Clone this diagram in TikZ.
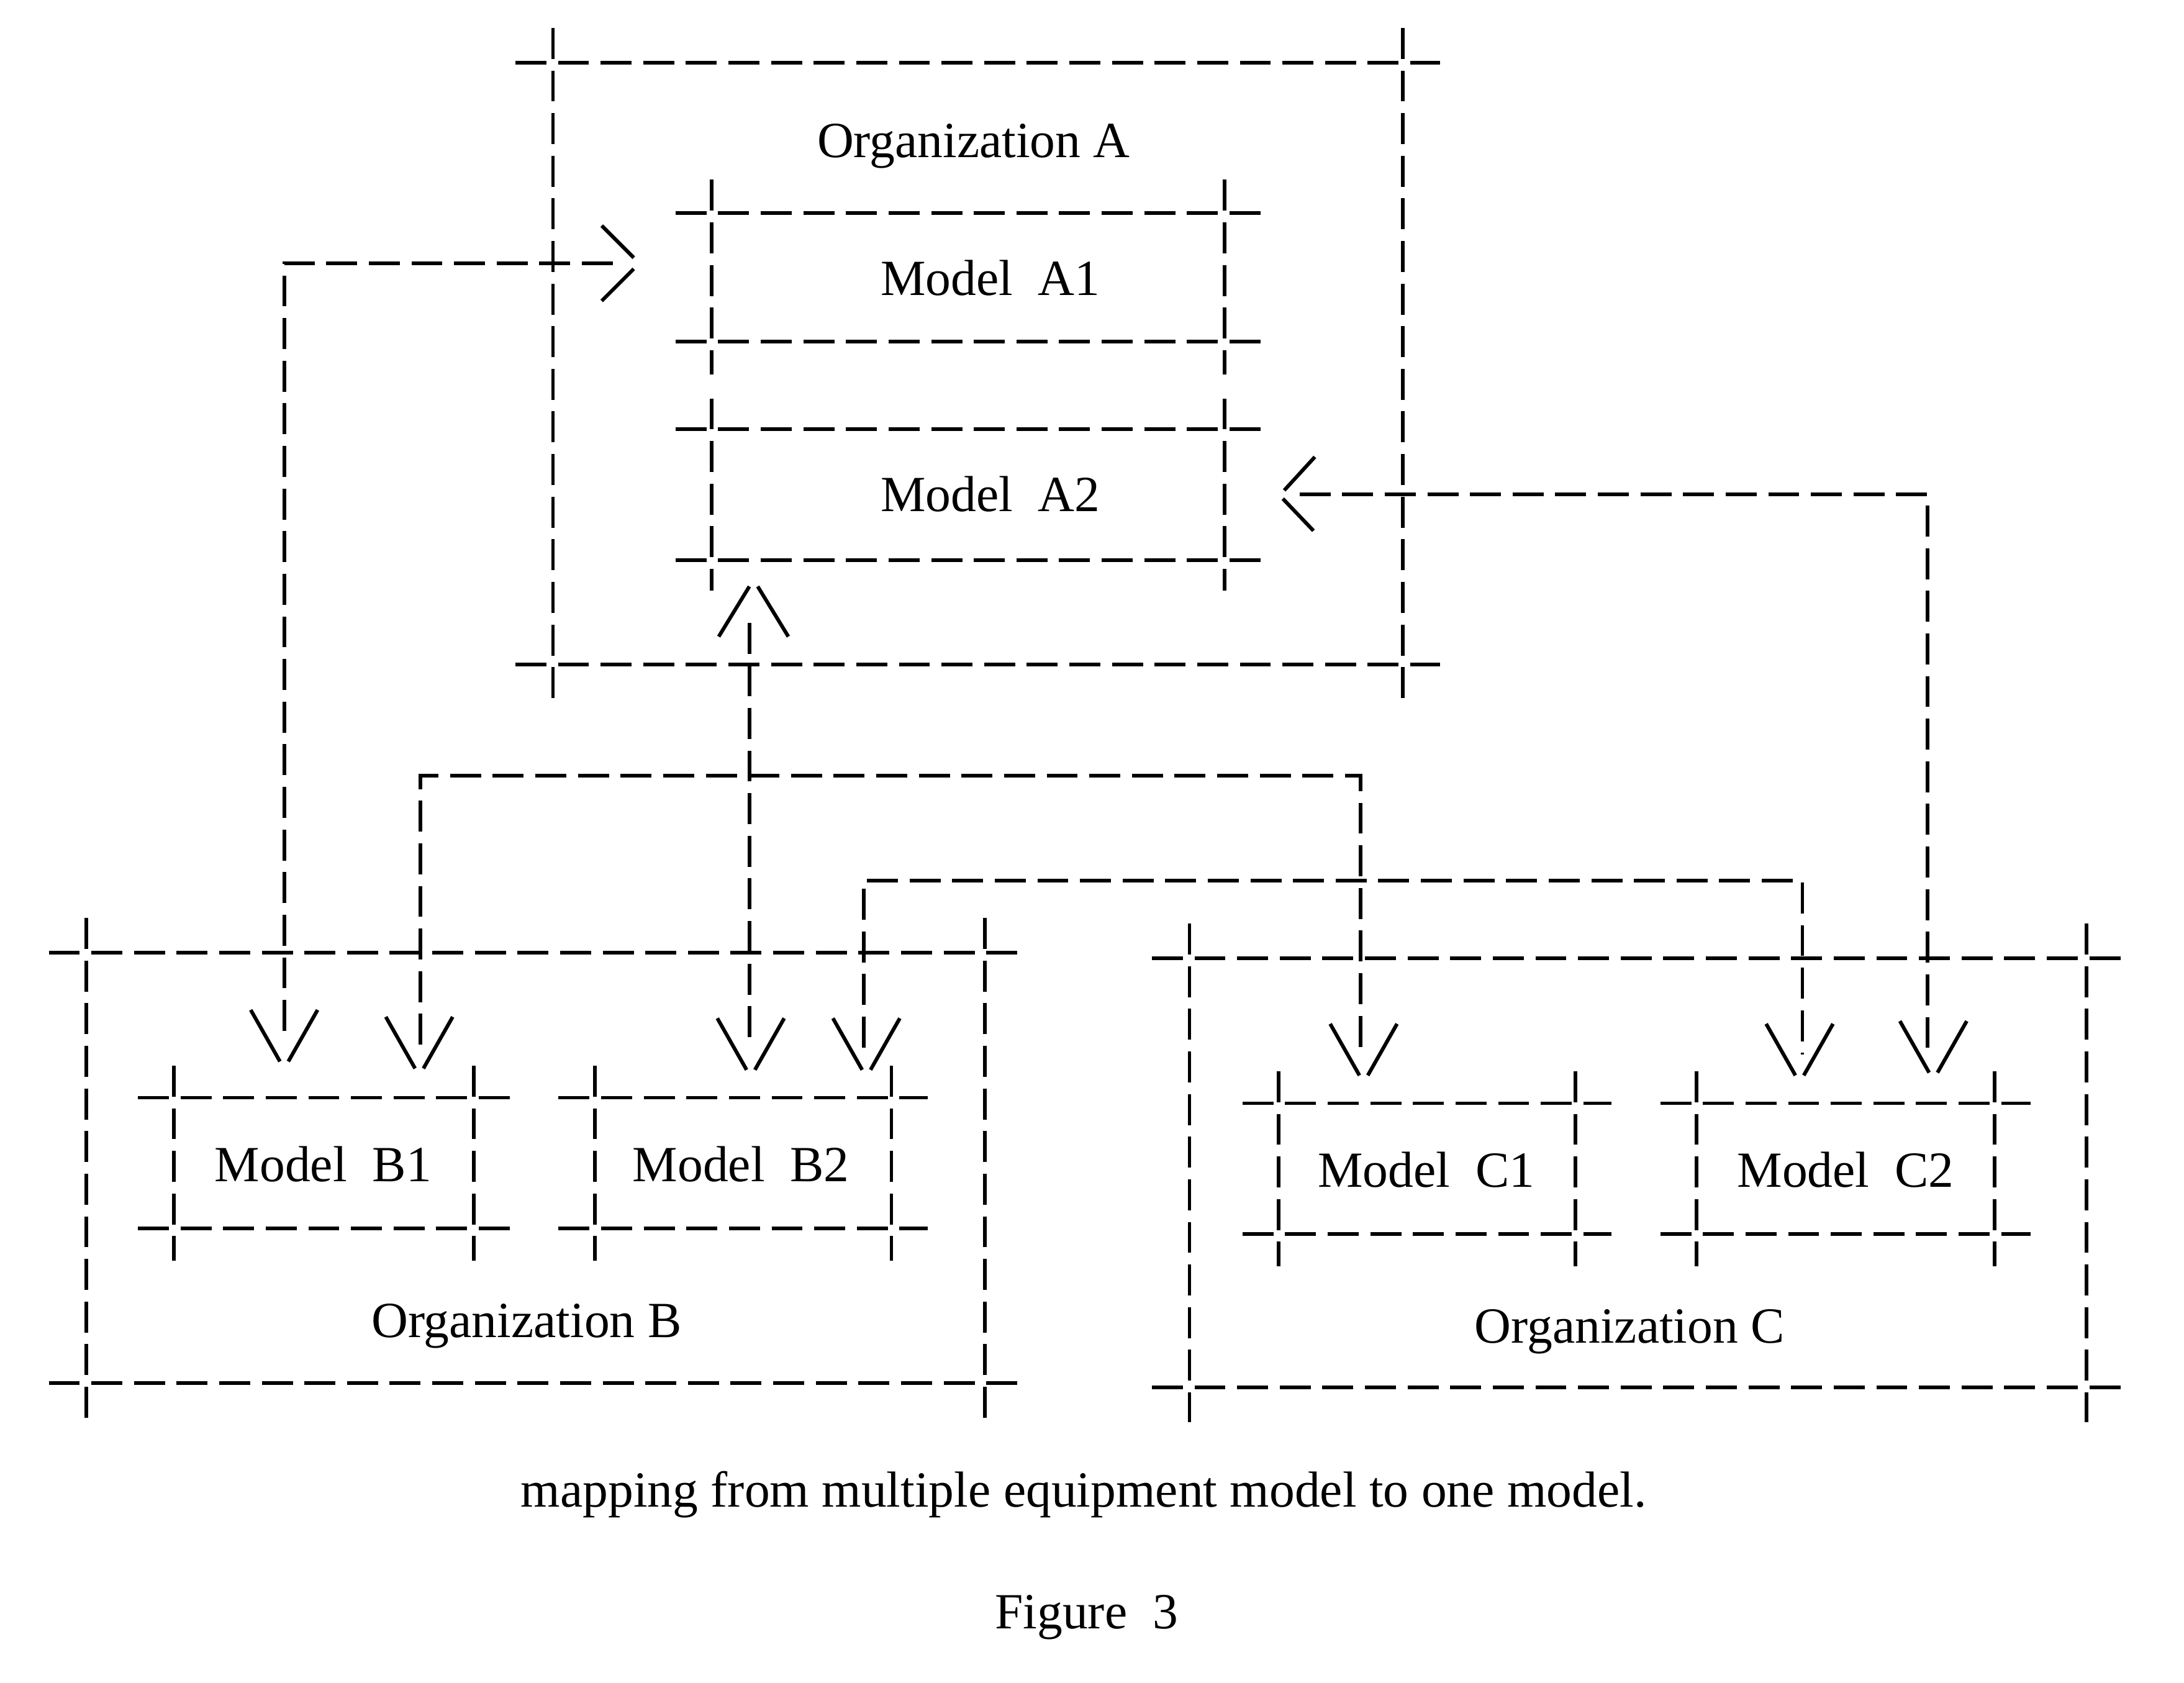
\documentclass[tikz,border=0pt]{standalone}
\usepackage{fontspec}
\setmainfont{Liberation Serif}
\usetikzlibrary{fit}
\newcommand\xframe[7]{%
  \node[region, fit={(#2,#3) (#4,#5)}] (#1) {};
  \draw[dl] ({#2-#6},#3) -- ({#4+#6},#3);
  \draw[dl] ({#2-#6},#5) -- ({#4+#6},#5);
  \draw[dl] (#2,{#3-#7}) -- (#2,{#5+#7});
  \draw[dl] (#4,{#3-#7}) -- (#4,{#5+#7});
}
\newcommand\arrD[2]{\draw[ahead] ({#1-24},{#2-37}) -- ({#1-3},#2) ({#1+3},#2) -- ({#1+24},{#2-37});}
\newcommand\arrU[2]{\draw[ahead] ({#1-25},{#2+36}) -- ({#1-3},#2) ({#1+3},#2) -- ({#1+25},{#2+36});}
\newcommand\arrR[2]{\draw[ahead] ({#1-23},{#2-27}) -- (#1,{#2-4}) (#1,{#2+4}) -- ({#1-23},{#2+27});}
\newcommand\arrL[2]{\draw[ahead] ({#1+24},{#2-27}) -- ({#1+2},{#2-3}) ({#1+1},{#2+3}) -- ({#1+23},{#2+26});}
\begin{document}
\begin{tikzpicture}[x=0.02cm,y=-0.02cm,
  dl/.style={line width=1.5pt, dash pattern=on 0.445cm off 0.167cm},
  conn/.style={dl},
  ahead/.style={line width=1.5pt},
  lbl/.style={anchor=base, inner sep=0pt, font=\fontsize{20.7}{24}\selectfont},
  region/.style={inner sep=0pt, draw=none}]
\useasboundingbox (0,0) rectangle (1568,1208);

% frames
\xframe{orgA}{397}{45}{1007}{477}{27}{25}
\xframe{A1}{511}{153}{879}{245}{26}{24}
\xframe{A2}{511}{308}{879}{402}{26}{22}
\xframe{orgB}{62}{684}{707}{993}{27}{25}
\xframe{B1}{125}{788}{340}{882}{26}{23}
\xframe{B2}{427}{788}{640}{882}{26}{23}
\xframe{orgC}{854}{688}{1498}{996}{27}{25}
\xframe{C1}{918}{792}{1131}{886}{26}{23}
\xframe{C2}{1218}{792}{1432}{886}{26}{23}

% labels
\node[lbl] (tA) at (699,113) {Organization A};
\node[lbl] (tA1) at (711,212) {Model\ \ A1};
\node[lbl] (tA2) at (711,367) {Model\ \ A2};
\node[lbl] (tB1) at (232,848) {Model\ \ B1};
\node[lbl] (tB2) at (532,848) {Model\ \ B2};
\node[lbl] (tC1) at (1024,852) {Model\ \ C1};
\node[lbl] (tC2) at (1325,852) {Model\ \ C2};
\node[lbl] (tB) at (378,960) {Organization B};
\node[lbl] (tC) at (1170,964) {Organization C};
\node[lbl] (cap) at (778,1082) {mapping from multiple equipment model to one model.};
\node[lbl] (fig) at (780,1169) {Figure\ \ 3};

% connector end points and bends
\coordinate (pA1) at (440,189);
\coordinate (kA1) at (204,189);
\coordinate (pB1a) at (204,745);
\coordinate (pA2b) at (538,447);
\coordinate (pB2a) at (538,752);
\coordinate (pB1b) at (302,750);
\coordinate (k3l) at (302,557);
\coordinate (k3r) at (977,557);
\coordinate (pC1) at (977,757);
\coordinate (pB2b) at (620,752);
\coordinate (k4l) at (620,632);
\coordinate (k4r) at (1294,632);
\coordinate (pC2a) at (1294,757);
\coordinate (pA2r) at (933,355);
\coordinate (k5) at (1384,355);
\coordinate (pC2b) at (1384,755);

\draw[conn] (pA1) -- (kA1) -- (pB1a);
\draw[conn] (pA2b) -- (pB2a);
\draw[conn] (pB1b) -- (k3l) -- (k3r) -- (pC1);
\draw[conn] (pB2b) -- (k4l) -- (k4r) -- (pC2a);
\draw[conn] (pA2r) -- (k5) -- (pC2b);

% arrow heads
\arrR{455}{189}
\arrD{204}{762}
\arrU{541}{421}
\arrD{539}{768}
\arrD{301}{767}
\arrD{979}{772}
\arrD{622}{768}
\arrD{1292}{772}
\arrD{1388}{770}
\arrL{920}{355}
\end{tikzpicture}
\end{document}
